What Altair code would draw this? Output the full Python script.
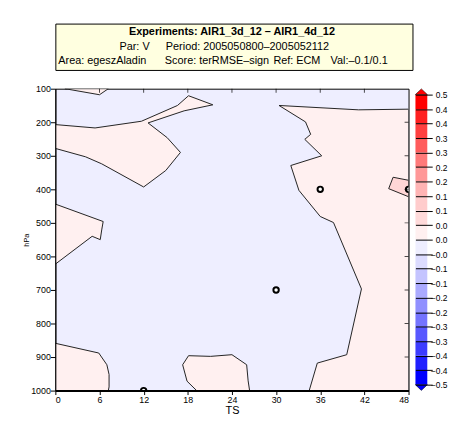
import altair as alt
import pandas as pd

# ---------------- data ----------------
ts_ticks = [0, 6, 12, 18, 24, 30, 36, 42, 48]
p_ticks = [100, 200, 300, 400, 500, 600, 700, 800, 900, 1000]
top_ticks = [6, 12, 18, 24, 30, 36, 42]
right_ticks = [200, 300, 400, 500, 600, 700, 800, 900]

# contour regions with value in (0, 0.05)  -> (TS, hPa) vertices
poly_A = [(1.3, 100), (6.0, 118), (7.2, 100)]
poly_B = [(0, 207), (5.4, 217), (11.7, 197), (16.6, 150), (18.1, 121), (21.4, 148),
          (17.5, 166), (12.6, 202), (15.2, 246), (17.0, 290), (15.0, 344), (12.0, 393),
          (6.3, 324), (4.1, 303), (0, 278)]
poly_C = [(0, 444), (6.5, 496), (6.3, 521), (6.1, 550), (5.0, 540), (0, 623)]
poly_D = [(0, 859), (5.9, 888), (7.0, 923), (7.3, 952), (7.3, 989), (7.2, 1000), (0, 1000)]
poly_E = [(19.2, 1000), (17.9, 972), (17.3, 923), (18.1, 896), (21.1, 898), (24.0, 893),
          (26.0, 923), (26.2, 971), (26.4, 1000)]
poly_F = [(30.4, 150), (41.2, 163), (48, 161), (48, 1000), (34.5, 1000), (35.6, 918),
          (39.6, 893), (41.6, 697), (37.8, 499), (36.0, 481), (33.1, 403), (32.0, 329),
          (36.2, 300), (33.9, 251), (34.7, 236), (34.0, 199)]
# contour region with value in (0.05, 0.1)
poly_G = [(45.9, 364), (48, 373), (48, 422), (45.3, 398)]

band1_polys = {"A": poly_A, "B": poly_B, "C": poly_C, "D": poly_D, "E": poly_E, "F": poly_F}
band2_polys = {"G": poly_G}

# significance markers
mark_ts = [36, 30, 12, 48]
mark_p = [400, 700, 1000, 400]

# colour bar
cbar_lo = [0.45, 0.40, 0.35, 0.30, 0.25, 0.20, 0.15, 0.10, 0.05, 0.00,
           -0.05, -0.10, -0.15, -0.20, -0.25, -0.30, -0.35, -0.40, -0.45, -0.50]
cbar_hi = [0.50, 0.45, 0.40, 0.35, 0.30, 0.25, 0.20, 0.15, 0.10, 0.05,
           0.00, -0.05, -0.10, -0.15, -0.20, -0.25, -0.30, -0.35, -0.40, -0.45]
cbar_colors = ["#ff0000", "#ff2020", "#ff4040", "#ff5c5c", "#ff7a7a", "#ff9898",
               "#ffb4b4", "#ffcccc", "#ffdada", "#fff0f0",
               "#eeeeff", "#dcdcff", "#c4c4ff", "#aaaaff", "#9090ff", "#7474ff",
               "#5858ff", "#3c3cff", "#2020ff", "#0000ff"]
cbar_ticks = [0.5, 0.45, 0.4, 0.35, 0.3, 0.25, 0.2, 0.15, 0.1, 0.05, 0.0,
              -0.05, -0.1, -0.15, -0.2, -0.25, -0.3, -0.35, -0.4, -0.45, -0.5]

# title box texts (row, text)
title_line = "Experiments: AIR1_3d_12 \u2013 AIR1_4d_12"
line2_parts = ["Par: V", "Period: 2005050800\u20132005052112"]
line3_parts = ["Area: egeszAladin", "Score: terRMSE\u2013sign", "Ref: ECM", "Val:\u20130.1/0.1"]

FONT = "Liberation Sans"


def poly_frame(polys):
    rows = []
    for name, pts in polys.items():
        closed = list(pts) + [pts[0]]
        for i, (t, p) in enumerate(closed):
            rows.append({"region": name, "idx": i, "ts": t, "p": p})
    return pd.DataFrame(rows)


xscale = alt.Scale(domain=[0, 48], nice=False, zero=False)
yscale = alt.Scale(domain=[100, 1000], reverse=True, nice=False, zero=False)

xaxis = alt.Axis(values=ts_ticks, tickCount=40, title="TS", tickSize=4, labelPadding=1,
                 labelFontSize=9, labelFont=FONT, titleFont=FONT, titleFontSize=11,
                 titleFontWeight="normal", titleBaseline="top", titleY=14, grid=False,
                 domainWidth=2, domainColor="black", tickColor="black", labelColor="black",
                 titleColor="black", zindex=1, labelOverlap=False, format="d")
yaxis = alt.Axis(values=p_ticks, tickCount=40, title="hPa", tickSize=5, labelPadding=0,
                 labelFontSize=9, labelFont=FONT, titleFont=FONT, titleFontSize=7.5,
                 titleFontWeight="normal", titleX=-25, titleY=153, grid=False,
                 domainColor="black", tickColor="black", labelColor="black",
                 titleColor="black", zindex=1, labelOverlap=False, format="d")

band1 = alt.Chart(poly_frame(band1_polys)).mark_line(
    fill="#fff0f0", stroke="#222222", strokeWidth=1, clip=True
).encode(
    x=alt.X("ts:Q", scale=xscale, axis=xaxis),
    y=alt.Y("p:Q", scale=yscale, axis=yaxis),
    detail="region:N",
    order="idx:Q",
)

band2 = alt.Chart(poly_frame(band2_polys)).mark_line(
    fill="#ffd6d6", stroke="#222222", strokeWidth=1, clip=True
).encode(
    x=alt.X("ts:Q", scale=xscale),
    y=alt.Y("p:Q", scale=yscale),
    detail="region:N",
    order="idx:Q",
)

markers = alt.Chart(pd.DataFrame({"ts": mark_ts, "p": mark_p})).mark_point(
    shape="circle", filled=True, fill="white", stroke="black", strokeWidth=2,
    size=30, opacity=1, clip=True
).encode(x=alt.X("ts:Q", scale=xscale), y=alt.Y("p:Q", scale=yscale))

tticks = alt.Chart(pd.DataFrame({"ts": top_ticks})).mark_tick(
    orient="vertical", size=8, thickness=1, color="black", clip=True
).encode(x=alt.X("ts:Q", scale=xscale), y=alt.value(0))

rticks = alt.Chart(pd.DataFrame({"p": right_ticks})).mark_tick(
    orient="horizontal", size=8, thickness=1, color="black", clip=True
).encode(y=alt.Y("p:Q", scale=yscale), x=alt.value(358))

main = alt.layer(band1, band2, markers, tticks, rticks)

# colour bar
cscale = alt.Scale(domain=[-0.5204, 0.5204], nice=False, zero=False)
caxis = alt.Axis(orient="right", values=cbar_ticks, tickCount=60, offset=7, tickSize=17,
                 tickColor="black", domain=False, labelAlign="right", labelPadding=15,
                 labelFontSize=8.5, labelFont=FONT, labelColor="black", labelOverlap=False,
                 labelExpr="slice(format(datum.value, '.2f'), 0, -1)",
                 title=None, grid=False, zindex=1)

cbar_df = pd.DataFrame({"lo": cbar_lo, "hi": cbar_hi, "color": cbar_colors})
cbar = alt.Chart(cbar_df).mark_rect().encode(
    y=alt.Y("lo:Q", scale=cscale, axis=caxis),
    y2="hi:Q",
    x=alt.value(365), x2=alt.value(377),
    fill=alt.Fill("color:N", scale=None),
)
tri_up = alt.Chart(pd.DataFrame({"lo": [cbar_hi[0]]})).mark_point(
    shape="M-1,0L1,0L0,-0.95Z", filled=True, fill=cbar_colors[0], stroke="black",
    strokeWidth=0.5, size=150, opacity=1
).encode(y=alt.Y("lo:Q", scale=cscale), x=alt.value(371))
tri_dn = alt.Chart(pd.DataFrame({"lo": [cbar_lo[-1]]})).mark_point(
    shape="M-1,0L1,0L0,0.95Z", filled=True, fill=cbar_colors[-1], stroke="black",
    strokeWidth=0.5, size=150, opacity=1
).encode(y=alt.Y("lo:Q", scale=cscale), x=alt.value(371))

colorbar = alt.layer(cbar, tri_up, tri_dn)

plot = alt.layer(main, colorbar).resolve_scale(y="independent", x="independent").properties(
    width=358, height=306,
    view=alt.ViewBackground(fill="#eeeeff", stroke="black", strokeWidth=1),
)

# title box
bscale = alt.Scale(domain=[-0.819, 2.389], reverse=True, nice=False, zero=False)


def box_text(txt, row, xpos, align="left", bold=False):
    return alt.Chart(pd.DataFrame({"row": [row], "txt": [txt]})).mark_text(
        font=FONT, fontSize=11, fontWeight="bold" if bold else "normal",
        baseline="alphabetic", align=align, color="black"
    ).encode(y=alt.Y("row:Q", scale=bscale, axis=None), x=alt.value(xpos), text="txt:N")


box_layers = [box_text(title_line, 0, 179, align="center", bold=True)]
for txt, xpos in zip(line2_parts, [65, 112]):
    box_layers.append(box_text(txt, 1, xpos))
for txt, xpos in zip(line3_parts, [3, 111, 221, 279]):
    box_layers.append(box_text(txt, 2, xpos))

box = alt.layer(*box_layers).properties(
    width=362, height=47,
    view=alt.ViewBackground(fill="#ffffe0", stroke="black", strokeWidth=1),
)

chart = alt.vconcat(box, plot, spacing=19, bounds="flush").properties(
    padding={"left": 14, "top": 12, "right": 0, "bottom": 0},
    background="white",
)

chart.save("out.html", embed_options={"renderer": "svg", "actions": False})
